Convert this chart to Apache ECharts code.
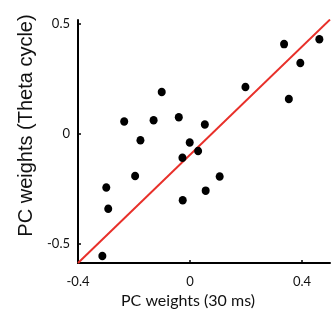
<!DOCTYPE html>
<html>
<head>
<meta charset="utf-8">
<script src="https://cdn.jsdelivr.net/npm/echarts@6/dist/echarts.min.js"></script>
<style>html,body{margin:0;padding:0;background:#fff}#c{width:335px;height:324px}</style>
</head>
<body>
<div id="c"></div>
<script>
var xValues = [-0.313, -0.299, -0.292, -0.235, -0.196, -0.177, -0.130, -0.101, -0.040, -0.027, -0.026, -0.001, 0.029, 0.053, 0.056, 0.106, 0.198, 0.336, 0.353, 0.394, 0.462];
var yValues = [-0.557, -0.245, -0.342, 0.056, -0.192, -0.029, 0.062, 0.191, 0.076, -0.109, -0.303, -0.040, -0.078, 0.042, -0.259, -0.195, 0.214, 0.409, 0.159, 0.323, 0.431];
var fitLineX = [-0.4, 0.5];
var fitLineY = [-0.589, 0.521];
var xTicks = [-0.4, 0, 0.4];
var yTicks = [-0.5, 0, 0.5];

var points = xValues.map(function (x, i) { return [x, yValues[i]]; });
var linePts = fitLineX.map(function (x, i) { return [x, fitLineY[i]]; });

var chart = echarts.init(document.getElementById('c'));
chart.setOption({
  animation: false,
  grid: { left: 78, top: 20, right: 5, bottom: 61 },
  xAxis: {
    type: 'value', min: -0.4, max: 0.5,
    name: 'PC weights (30 ms)', nameLocation: 'middle', nameGap: 30,
    nameTextStyle: { fontFamily: 'Lato', fontSize: 16, color: '#111', padding: [0, 32, 0, 0] },
    axisLine: { show: true, onZero: false, lineStyle: { color: '#000', width: 2 } },
    axisTick: { show: true, inside: true, length: 3, customValues: xTicks, lineStyle: { color: '#000', width: 1.5 } },
    axisLabel: { customValues: xTicks, margin: 12, fontFamily: 'Lato', fontSize: 13, color: '#111',
      formatter: function (v) { return v === 0 ? '0' : String(v); } },
    splitLine: { show: false }
  },
  yAxis: {
    type: 'value', min: -0.589, max: 0.519,
    name: 'PC weights (Theta cycle)', nameLocation: 'middle', nameGap: 42,
    nameTextStyle: { fontFamily: 'Liberation Sans', fontSize: 20, color: '#111', padding: [0, 0, 0, 32] },
    axisLine: { show: true, onZero: false, lineStyle: { color: '#000', width: 2 } },
    axisTick: { show: true, inside: true, length: 3, customValues: yTicks, lineStyle: { color: '#000', width: 1.5 } },
    axisLabel: { customValues: yTicks, margin: 8, fontFamily: 'Lato', fontSize: 13, color: '#111',
      formatter: function (v) { return v === 0 ? '0' : String(v); } },
    splitLine: { show: false }
  },
  series: [
    {
      type: 'line', data: linePts, symbol: 'none', silent: true,
      lineStyle: { color: '#e8302a', width: 2 }, z: 3
    },
    {
      type: 'scatter', data: points, symbol: 'circle', symbolSize: [8, 8.5],
      itemStyle: { color: '#000', opacity: 1 }, z: 4
    }
  ]
});
</script>
</body>
</html>
